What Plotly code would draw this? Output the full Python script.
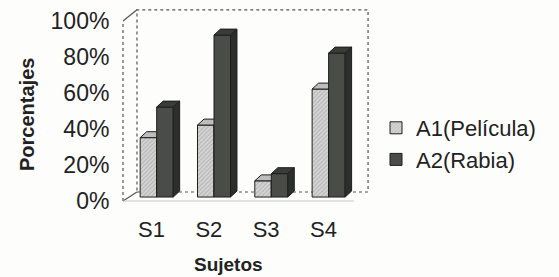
import plotly.graph_objects as go

# ---- data ----
categories = ["S1", "S2", "S3", "S4"]
a1_pelicula = [33, 40, 9, 60]   # %
a2_rabia = [50, 90, 13, 80]     # %
y_ticks = [0, 20, 40, 60, 80, 100]
y_tick_labels = ["0%", "20%", "40%", "60%", "80%", "100%"]
series_names = ["A1(Película)", "A2(Rabia)"]

# ---- geometry (in axis units) ----
PL, PR, PT, PB = 118, 372, 5, 203   # plot area in px
X_RANGE = [-0.675, 3.757]
Y_RANGE = [(201 - PB) / 1.8, (201 - PT) / 1.8]
BAR_W = 0.288
BASE = 2.2          # bars stand a little back from the front edge
DX, DY = 0.113, 3.3  # bar depth
WALL_DX, WALL_DY = 0.244, 5.0
LEFT = -0.588
RIGHT_BACK = 3.688
TOP = 100.0

FONT = "Arial, Liberation Sans, sans-serif"
TXT = "#222222"

styles = {
    0: dict(front="#d4d4d4", top="#bdbdbd", side="#9a9a9a", pattern=True),
    1: dict(front="#4a4d47", top="#3a3c38", side="#2c2e2b", pattern=False),
}

fig = go.Figure()


def poly(xs, ys, color, pattern=False):
    kw = dict(
        x=xs + [xs[0]], y=ys + [ys[0]], mode="lines", fill="toself",
        fillcolor=color, line=dict(color="#1e1e1e", width=1),
        hoverinfo="skip", showlegend=False,
    )
    if pattern:
        kw["fillpattern"] = dict(shape="/", bgcolor=color, fgcolor="#8c8c8c",
                                 size=3, solidity=0.3)
    fig.add_trace(go.Scatter(**kw))


for i, cat in enumerate(categories):
    for s, vals in enumerate([a1_pelicula, a2_rabia]):
        st = styles[s]
        v = vals[i] + BASE
        x0 = i - BAR_W + s * BAR_W
        x1 = x0 + BAR_W
        # front face
        poly([x0, x1, x1, x0], [BASE, BASE, v, v], st["front"], st["pattern"])
        # top face
        poly([x0, x1, x1 + DX, x0 + DX], [v, v, v + DY, v + DY], st["top"])
        # side face
        poly([x1, x1 + DX, x1 + DX, x1], [BASE, BASE + DY, v + DY, v], st["side"])

# legend entries (dummy bars placed outside the visible range)
for s, name in enumerate(series_names):
    st = styles[s]
    marker = dict(color=st["front"], line=dict(color="#1e1e1e", width=1))
    if st["pattern"]:
        marker["pattern"] = dict(shape="/", bgcolor=st["front"], fgcolor="#8c8c8c",
                                 size=3, solidity=0.3)
    fig.add_trace(go.Bar(x=[-10], y=[0], name=name, marker=marker,
                         legendgroup=name, hoverinfo="skip"))

# walls
WALL = dict(color="#555555", width=1.2)
shapes = [
    dict(type="rect", x0=LEFT + WALL_DX, x1=RIGHT_BACK, y0=WALL_DY, y1=TOP + WALL_DY + 1.2,
         line=dict(WALL, dash="dot"), layer="below"),
    dict(type="line", x0=LEFT, x1=LEFT, y0=0, y1=TOP, line=dict(WALL, dash="dot"), layer="below"),
    dict(type="line", x0=LEFT, x1=LEFT + WALL_DX, y0=TOP, y1=TOP + WALL_DY + 1.2,
         line=WALL, layer="below"),
    dict(type="line", x0=LEFT, x1=LEFT + WALL_DX, y0=0, y1=WALL_DY,
         line=WALL, layer="below"),
    dict(type="line", x0=LEFT, x1=RIGHT_BACK - WALL_DX, y0=0, y1=0,
         line=dict(color="#c8c8c8", width=1), layer="below"),
]

fig.update_layout(
    width=559, height=277,
    margin=dict(l=PL, r=559 - PR, t=PT, b=277 - PB, autoexpand=False),
    paper_bgcolor="#fdfdfb", plot_bgcolor="rgba(0,0,0,0)",
    font=dict(family=FONT, color=TXT, size=22),
    shapes=shapes,
    showlegend=True,
    legend=dict(x=(376 - PL) / (PR - PL), y=(PB - 107) / (PB - PT), xanchor="left", yanchor="top",
                font=dict(size=22, family=FONT, color=TXT),
                bgcolor="rgba(0,0,0,0)", tracegroupgap=0),
    xaxis=dict(range=X_RANGE, showgrid=False, zeroline=False, showline=False,
               automargin=False,
               tickvals=[i - 0.09 for i in range(len(categories))], ticktext=categories,
               ticks="outside", ticklen=7, tickcolor="rgba(0,0,0,0)",
               tickfont=dict(size=22, family=FONT, color=TXT)),
    yaxis=dict(range=Y_RANGE, showgrid=False, zeroline=False, showline=False,
               automargin=False,
               tickvals=y_ticks, ticktext=y_tick_labels,
               ticks="outside", ticklen=3, tickcolor="rgba(0,0,0,0)",
               tickfont=dict(size=23, family=FONT, color=TXT)),
    annotations=[
        dict(text="<b>Porcentajes</b>", xref="paper", yref="paper",
             x=(27 - PL) / (PR - PL), y=(PB - 115) / (PB - PT), textangle=-90,
             xanchor="center", yanchor="middle", showarrow=False,
             font=dict(size=20, family=FONT, color=TXT)),
        dict(text="<b>Sujetos</b>", xref="paper", yref="paper",
             x=(228 - PL) / (PR - PL), y=(PB - 264) / (PB - PT),
             xanchor="center", yanchor="middle", showarrow=False,
             font=dict(size=19, family=FONT, color=TXT)),
    ],
)

fig.write_html("out.html", config={"displayModeBar": False},
               post_script="document.body.style.margin='0px';")
